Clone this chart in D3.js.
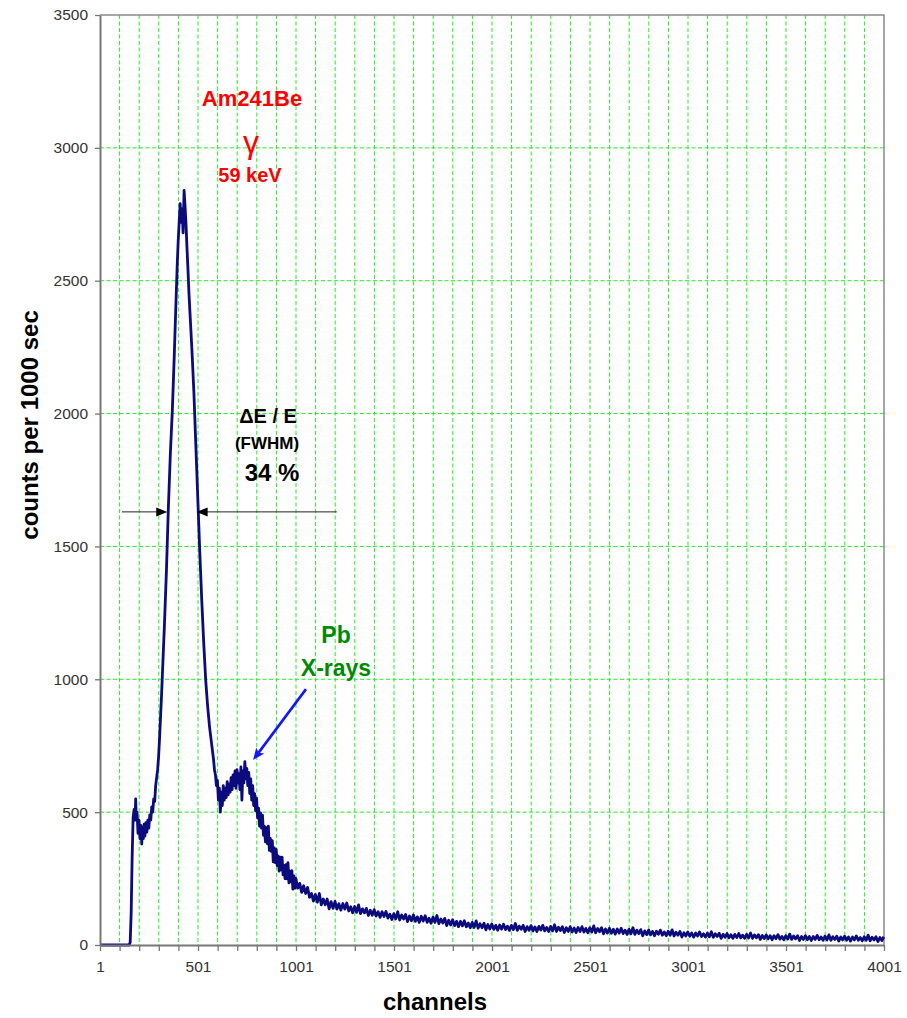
<!DOCTYPE html>
<html>
<head>
<meta charset="utf-8">
<script src="https://cdn.jsdelivr.net/npm/d3@7"></script>
<style>
  body { margin: 0; background: #fff; }
  svg { display: block; }
  text { font-family: Arial, "Liberation Sans", sans-serif; }
</style>
</head>
<body>
<svg id="chart" width="907" height="1018"></svg>
<script>
// ---- axis ticks ----
const xLabelTicks = [1, 501, 1001, 1501, 2001, 2501, 3001, 3501, 4001];
const yTickValues = [0, 500, 1000, 1500, 2000, 2500, 3000, 3500];

// ---- spectrum, low channels (threshold, 59 keV peak, Pb X-ray bump, fall-off) ----
const lowChannels = [
  1, 150, 155, 160, 165, 170, 175, 180, 183, 186, 190, 195, 200, 205, 210, 214, 218, 222, 226, 230,
  235, 240, 245, 250, 255, 260, 265, 270, 275, 280, 285, 290, 295, 300, 305, 310, 315, 320, 330, 340,
  350, 360, 370, 380, 390, 395, 400, 405, 410, 415, 420, 425, 430, 435, 440, 445, 450, 455, 460, 470,
  480, 490, 500, 510, 520, 530, 540, 550, 560, 570, 580, 585, 590, 595, 600, 605, 610, 615, 620, 625,
  630, 635, 640, 645, 650, 655, 660, 665, 670, 675, 680, 685, 690, 695, 700, 705, 710, 715, 720, 725,
  730, 735, 740, 745, 750, 755, 760, 765, 770, 775, 780, 785, 790, 795,
  800, 805, 810, 815, 820, 825, 830, 835, 840, 845, 850, 855, 860, 865, 870, 875, 880, 885, 890, 895,
  900, 905, 910, 915, 920, 925, 930, 935, 940, 945, 950, 955, 960, 965, 970, 975, 980, 985, 990, 995
];
const lowCounts = [
  0, 0, 10, 120, 330, 480, 510, 470, 550, 480, 500, 420, 470, 400, 450, 380, 440, 400, 455, 410,
  460, 425, 470, 440, 490, 470, 520, 500, 550, 540, 600, 630, 660, 710, 780, 860, 940, 1030, 1210, 1410,
  1650, 1850, 2010, 2220, 2450, 2560, 2650, 2720, 2790, 2720, 2770, 2680, 2840, 2780, 2710, 2620, 2540, 2450, 2380, 2240,
  2080, 1880, 1680, 1480, 1300, 1140, 1000, 900, 820, 760, 700, 660, 640, 600, 620, 545, 590, 500, 575, 525,
  600, 545, 590, 555, 615, 565, 605, 575, 630, 585, 640, 600, 655, 590, 660, 610, 645, 585, 670, 545,
  655, 610, 690, 625, 665, 600, 650, 570, 625, 545, 600, 525, 570, 505,
  553, 478, 515, 447, 497, 440, 489, 413, 447, 388, 442, 381, 447, 356, 401, 352, 393, 313, 365, 310,
  360, 299, 335, 278, 331, 283, 331, 264, 300, 250, 302, 249, 310, 234, 278, 238, 280, 210, 260, 214
];

// ---- spectrum tail, every 10 channels from channel 1000 to 4000 ----
const tailStart = 1000;
const tailStep = 10;
const tailCounts = [
  251, 214, 232, 198, 223, 194, 217, 179, 194, 165, 190, 161, 194, 151, 173, 151, 173, 136, 163, 138,
  164, 135, 155, 131, 156, 135, 158, 128, 144, 121, 145, 123, 151, 118, 136, 121, 138, 111, 131, 112,
  133, 109, 125, 104, 125, 107, 126, 101, 116, 96, 118, 98, 125, 94, 113, 98, 115, 88, 109, 91,
  113, 89, 106, 85, 108, 90, 110, 85, 101, 82, 105, 85, 111, 80, 98, 83, 100, 73, 93, 75,
  95, 73, 89, 69, 89, 72, 91, 68, 83, 65, 85, 66, 91, 63, 80, 65, 82, 57, 77, 60,
  79, 59, 74, 56, 75, 60, 78, 58, 71, 55, 74, 58, 81, 55, 71, 59, 74, 51, 69, 55,
  73, 53, 68, 51, 70, 56, 74, 53, 66, 51, 70, 53, 76, 51, 67, 54, 69, 47, 65, 51,
  69, 49, 64, 47, 66, 51, 69, 49, 62, 46, 65, 49, 72, 46, 62, 50, 65, 42, 60, 45,
  63, 44, 59, 41, 60, 45, 63, 43, 56, 40, 59, 42, 65, 40, 56, 43, 58, 35, 53, 39,
  56, 38, 51, 35, 52, 40, 56, 37, 49, 35, 52, 37, 57, 34, 48, 37, 51, 30, 46, 34,
  49, 33, 45, 30, 45, 34, 49, 32, 42, 30, 45, 31, 50, 29, 42, 32, 44, 25, 40, 29,
  43, 27, 39, 25, 40, 28, 43, 27, 37, 25, 40, 26, 45, 25, 38, 27, 39, 21, 36, 24,
  38, 23, 35, 20, 35, 24, 39, 22, 32, 20, 35, 22, 41, 21, 34, 23, 35, 17, 32, 21,
  35, 20, 32, 17, 32, 21, 36, 20, 30, 18, 33, 19, 38, 18, 31, 21, 33, 15, 30, 19,
  33, 18, 30, 15, 30, 19, 34, 18, 28, 16, 31, 18, 37, 16, 29, 19, 31, 13, 28, 17,
  31
];

// ---- annotation anchors (data units) ----
const fwhmLevel = 1630;
const fwhmLeft = [113, 344];    // tail start -> arrow tip
const fwhmRight = [494, 1209];  // arrow tip -> tail end
const pbArrow = { from: [1052, 963], to: [782, 696] };

// ---- layout ----
const svg = d3.select("#chart");
const plot = { left: 100, right: 884, top: 15, bottom: 945 };

const x = d3.scaleLinear().domain([1, 4001]).range([plot.left, plot.right]);
const y = d3.scaleLinear().domain([0, 3500]).range([plot.bottom, plot.top]);

svg.append("rect").attr("width", 907).attr("height", 1018).attr("fill", "#fff");

// gridlines
const gridColor = "#22ee22";
const gridDash = "4,2.5";
const g = svg.append("g");
g.selectAll("line.vg").data(d3.range(101, 4001, 100)).join("line")
  .attr("x1", d => x(d)).attr("x2", d => x(d))
  .attr("y1", plot.top).attr("y2", plot.bottom)
  .attr("stroke", gridColor).attr("stroke-width", 1).attr("stroke-dasharray", gridDash);
g.selectAll("line.hg").data(yTickValues.filter(v => v > 0 && v < 3500)).join("line")
  .attr("x1", plot.left).attr("x2", plot.right)
  .attr("y1", d => y(d)).attr("y2", d => y(d))
  .attr("stroke", gridColor).attr("stroke-width", 1).attr("stroke-dasharray", gridDash);

// frame (top and right)
svg.append("path")
  .attr("d", `M${plot.left},${plot.top}H${plot.right}V${plot.bottom}`)
  .attr("fill", "none").attr("stroke", "#8a8a8a").attr("stroke-width", 1.5);

// spectrum
const points = lowChannels.map((c, i) => [c, lowCounts[i]])
  .concat(tailCounts.map((v, i) => [tailStart + i * tailStep, v]));
svg.append("path")
  .datum(points)
  .attr("d", d3.line().x(d => x(d[0])).y(d => y(d[1])))
  .attr("fill", "none")
  .attr("stroke", "#0b0b7e")
  .attr("stroke-width", 2.8)
  .attr("stroke-linejoin", "round");

// axes
const axisColor = "#777";
const yAxis = svg.append("g")
  .attr("transform", `translate(${plot.left},0)`)
  .call(d3.axisLeft(y).tickValues(yTickValues).tickSize(5).tickSizeOuter(0).tickPadding(7)
    .tickFormat(d3.format("d")));
const xAxis = svg.append("g")
  .attr("transform", `translate(0,${plot.bottom})`)
  .call(d3.axisBottom(x).tickValues(d3.range(1, 4002, 100)).tickSize(6).tickSizeOuter(0).tickPadding(10)
    .tickFormat(d => xLabelTicks.includes(d) ? d : ""));
[xAxis, yAxis].forEach(a => {
  a.select(".domain").attr("stroke", axisColor).attr("stroke-width", 2);
  a.selectAll(".tick line").attr("stroke", axisColor).attr("stroke-width", 1.3);
  a.selectAll(".tick text").attr("fill", "#333").attr("font-size", 15.5)
    .attr("font-family", "Arial, 'Liberation Sans', sans-serif");
});

// axis titles
svg.append("text")
  .attr("x", 435).attr("y", 1010)
  .attr("text-anchor", "middle").attr("font-size", 24).attr("font-weight", "bold")
  .text("channels");
svg.append("text")
  .attr("transform", "translate(38,425) rotate(-90)")
  .attr("text-anchor", "middle").attr("font-size", 24).attr("font-weight", "bold")
  .text("counts per 1000 sec");

// source label
const red = "#ff0000";
svg.append("text").attr("x", 252).attr("y", 106).attr("text-anchor", "middle")
  .attr("font-size", 22).attr("font-weight", "bold").attr("fill", red).text("Am241Be");
svg.append("text").attr("x", 251).attr("y", 153).attr("text-anchor", "middle")
  .attr("font-size", 32).attr("fill", red)
  .attr("font-family", "'Liberation Serif', 'DejaVu Serif', serif").text("γ");
svg.append("text").attr("x", 250).attr("y", 182).attr("text-anchor", "middle")
  .attr("font-size", 20).attr("font-weight", "bold").attr("fill", red).text("59 keV");

// resolution label
svg.append("text").attr("x", 268).attr("y", 423).attr("text-anchor", "middle")
  .attr("font-size", 20).attr("font-weight", "bold").attr("fill", "#000").text("ΔE / E");
svg.append("text").attr("x", 267).attr("y", 449).attr("text-anchor", "middle")
  .attr("font-size", 17).attr("font-weight", "bold").attr("fill", "#000").text("(FWHM)");
svg.append("text").attr("x", 272).attr("y", 481).attr("text-anchor", "middle")
  .attr("font-size", 24).attr("font-weight", "bold").attr("fill", "#000").text("34 %");

// FWHM arrows
const fy = y(fwhmLevel);
const arrowCol = "#222";
svg.append("line").attr("x1", x(fwhmLeft[0])).attr("x2", x(fwhmLeft[1]) - 9)
  .attr("y1", fy).attr("y2", fy).attr("stroke", arrowCol).attr("stroke-width", 1);
svg.append("path")
  .attr("d", `M${x(fwhmLeft[1])},${fy}L${x(fwhmLeft[1]) - 11},${fy - 4.5}L${x(fwhmLeft[1]) - 11},${fy + 4.5}Z`)
  .attr("fill", "#000");
svg.append("line").attr("x1", x(fwhmRight[0]) + 9).attr("x2", x(fwhmRight[1]))
  .attr("y1", fy).attr("y2", fy).attr("stroke", arrowCol).attr("stroke-width", 1);
svg.append("path")
  .attr("d", `M${x(fwhmRight[0])},${fy}L${x(fwhmRight[0]) + 11},${fy - 4.5}L${x(fwhmRight[0]) + 11},${fy + 4.5}Z`)
  .attr("fill", "#000");

// Pb X-ray label and arrow
const green = "#008a00";
svg.append("text").attr("x", 336).attr("y", 643).attr("text-anchor", "middle")
  .attr("font-size", 23).attr("font-weight", "bold").attr("fill", green).text("Pb");
svg.append("text").attr("x", 336).attr("y", 676).attr("text-anchor", "middle")
  .attr("font-size", 23).attr("font-weight", "bold").attr("fill", green).text("X-rays");

const ax0 = x(pbArrow.from[0]), ay0 = y(pbArrow.from[1]);
const ax1 = x(pbArrow.to[0]), ay1 = y(pbArrow.to[1]);
const ang = Math.atan2(ay1 - ay0, ax1 - ax0);
const hl = 12, hw = 5;
const bx = ax1 - hl * Math.cos(ang), by = ay1 - hl * Math.sin(ang);
svg.append("line").attr("x1", ax0).attr("y1", ay0).attr("x2", bx + 3 * Math.cos(ang)).attr("y2", by + 3 * Math.sin(ang))
  .attr("stroke", "#1515ff").attr("stroke-width", 2.6);
svg.append("path")
  .attr("d", `M${ax1},${ay1}L${bx - hw * Math.sin(ang)},${by + hw * Math.cos(ang)}L${bx + 3 * Math.cos(ang)},${by + 3 * Math.sin(ang)}L${bx + hw * Math.sin(ang)},${by - hw * Math.cos(ang)}Z`)
  .attr("fill", "#1515ff");
</script>
</body>
</html>
